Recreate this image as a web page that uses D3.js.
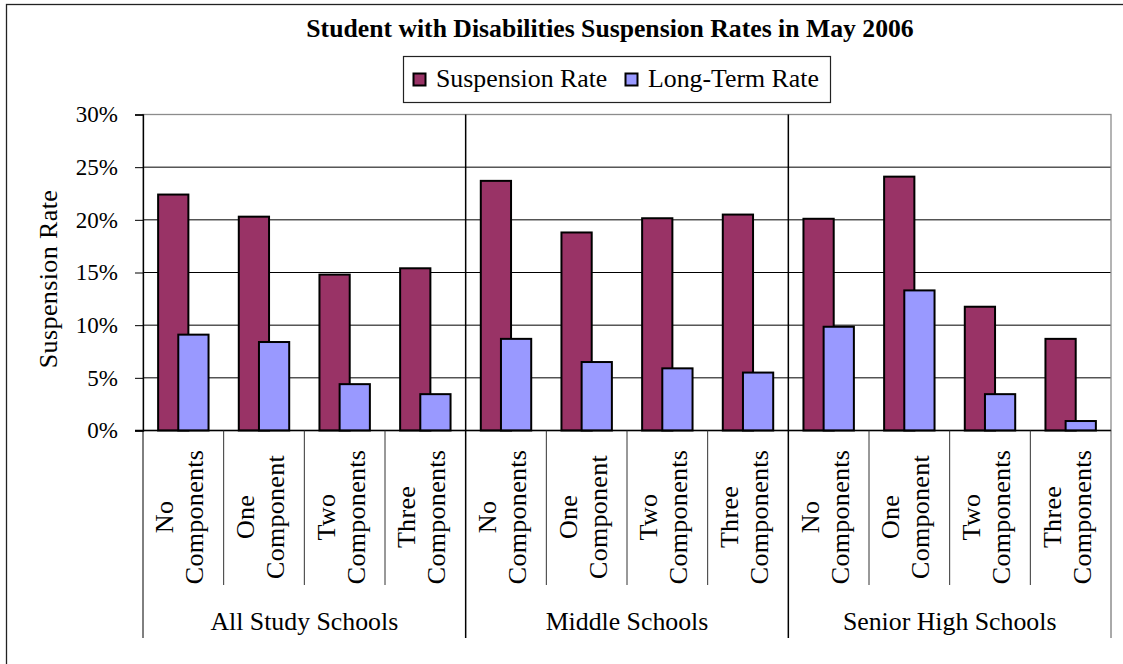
<!DOCTYPE html>
<html>
<head>
<meta charset="utf-8">
<script src="https://cdn.jsdelivr.net/npm/d3@7"></script>
<style>
  html, body { margin: 0; padding: 0; background: #fff; }
  svg { display: block; font-family: "Liberation Serif", "Times New Roman", serif; }
</style>
</head>
<body>
<svg id="chart" width="1123" height="664"></svg>
<script>
// Chart data
const chartTitle = "Student with Disabilities Suspension Rates in May 2006";
const axisTitle = "Suspension Rate";
const seriesNames = ["Suspension Rate", "Long-Term Rate"];
const seriesColors = ["#993366", "#9999FF"];
const groups = ["All Study Schools", "Middle Schools", "Senior High Schools"];
const componentLabels = [["No", "Components"], ["One", "Component"], ["Two", "Components"], ["Three", "Components"]];
// percent values, 4 categories per school group
const suspensionRate = [22.4, 20.3, 14.8, 15.4, 23.7, 18.8, 20.15, 20.5, 20.1, 24.1, 11.75, 8.7];
const longTermRate = [9.1, 8.4, 4.4, 3.45, 8.7, 6.5, 5.9, 5.5, 9.85, 13.3, 3.45, 0.9];
const yTicks = [0, 5, 10, 15, 20, 25, 30];

const svg = d3.select("#chart");

// Layout
const plot = { left: 143, right: 1111, top: 114.5, bottom: 430.5 };
const catBottom = 585, groupBottom = 638;

// Outer chart frame
svg.append("rect")
  .attr("x", 6.5).attr("y", 4.5)
  .attr("width", 1140).attr("height", 700)
  .attr("fill", "#fff").attr("stroke", "#222").attr("stroke-width", 1.3);

// Category keys
const keys = [];
groups.forEach((g, gi) => componentLabels.forEach((c, ci) => keys.push(gi + "-" + ci)));

const x = d3.scaleBand().domain(keys).range([plot.left, plot.right]).padding(0);
const y = d3.scaleLinear().domain([0, 30]).range([plot.bottom, plot.top]);

const bw = x.bandwidth();
const barW = bw * 3 / 8;          // gap width 100%, overlap 33%
const shift = barW * 2 / 3;

// Gridlines
svg.append("g").selectAll("line").data(yTicks.filter(t => t > 0 && t < 30)).join("line")
  .attr("x1", plot.left).attr("x2", plot.right)
  .attr("y1", d => y(d)).attr("y2", d => y(d))
  .attr("stroke", "#000").attr("stroke-width", 1);

// Plot area border
svg.append("rect")
  .attr("x", plot.left).attr("y", plot.top)
  .attr("width", plot.right - plot.left).attr("height", plot.bottom - plot.top)
  .attr("fill", "none").attr("stroke", "#8c8c8c").attr("stroke-width", 1.3);

// Bars
const barData = [];
keys.forEach((k, i) => {
  barData.push({ k, s: 0, v: suspensionRate[i] });
  barData.push({ k, s: 1, v: longTermRate[i] });
});
svg.append("g").selectAll("rect").data(barData).join("rect")
  .attr("x", d => x(d.k) + barW / 2 + d.s * shift)
  .attr("y", d => y(d.v))
  .attr("width", barW)
  .attr("height", d => y(0) - y(d.v))
  .attr("fill", d => seriesColors[d.s])
  .attr("stroke", "#000").attr("stroke-width", 2);

// Y axis
const yAxis = svg.append("g")
  .attr("transform", `translate(${plot.left},0)`)
  .call(d3.axisLeft(y).tickValues(yTicks).tickFormat(d => d + "%").tickSize(8).tickPadding(17));
yAxis.select(".domain").attr("stroke", "#000").attr("stroke-width", 1.3);
yAxis.selectAll(".tick line").attr("stroke", "#000");
yAxis.selectAll(".tick text")
  .attr("font-family", "Liberation Serif").attr("font-size", 23).attr("fill", "#000");

// X axis line
svg.append("line")
  .attr("x1", plot.left - 8).attr("x2", plot.right)
  .attr("y1", plot.bottom).attr("y2", plot.bottom)
  .attr("stroke", "#000").attr("stroke-width", 1.3);

// Category tick lines below axis
const catEdges = keys.map(k => x(k)).filter((v, i) => i % 4 !== 0);
svg.append("g").selectAll("line").data(catEdges).join("line")
  .attr("x1", d => d).attr("x2", d => d)
  .attr("y1", plot.bottom).attr("y2", catBottom)
  .attr("stroke", "#333").attr("stroke-width", 1);

// Group separators (through plot and down the label area)
const groupEdges = groups.map((g, gi) => x(gi + "-0")).concat([plot.right]);
svg.append("g").selectAll("line").data(groupEdges).join("line")
  .attr("x1", d => d).attr("x2", d => d)
  .attr("y1", (d, i) => (i === 0 || i === groupEdges.length - 1) ? plot.bottom : plot.top)
  .attr("y2", groupBottom)
  .attr("stroke", (d, i) => i === groupEdges.length - 1 ? "#555" : "#000")
  .attr("stroke-width", (d, i) => (i === 0 || i === groupEdges.length - 1) ? 1 : 1.5);

// Category labels (rotated, two lines)
const catG = svg.append("g").selectAll("g").data(keys).join("g")
  .attr("transform", d => `translate(${x(d) + bw / 2},517) rotate(-90)`);
catG.each(function (k) {
  const ci = +k.split("-")[1];
  const lines = componentLabels[ci];
  const t = d3.select(this).append("text")
    .attr("text-anchor", "middle")
    .attr("font-size", 26)
    .attr("letter-spacing", 0.3)
    .attr("fill", "#000");
  t.append("tspan").attr("x", 0).attr("y", -10).text(lines[0]);
  t.append("tspan").attr("x", 0).attr("y", 20).text(lines[1]);
});

// Group labels
svg.append("g").selectAll("text").data(groups).join("text")
  .attr("x", (d, gi) => (x(gi + "-0") + x(gi + "-3") + bw) / 2)
  .attr("y", 630)
  .attr("text-anchor", "middle")
  .attr("font-size", 25.8)
  .attr("fill", "#000")
  .text(d => d);

// Axis title
svg.append("text")
  .attr("transform", `translate(57,279) rotate(-90)`)
  .attr("text-anchor", "middle")
  .attr("font-size", 26)
  .attr("letter-spacing", 0.4)
  .attr("fill", "#000")
  .text(axisTitle);

// Title
svg.append("text")
  .attr("x", 610).attr("y", 37)
  .attr("text-anchor", "middle")
  .attr("font-size", 25.7)
  .attr("font-weight", "bold")
  .attr("fill", "#000")
  .text(chartTitle);

// Legend
const legend = svg.append("g");
legend.append("rect")
  .attr("x", 403.5).attr("y", 56.5).attr("width", 427).attr("height", 46)
  .attr("fill", "#fff").attr("stroke", "#222").attr("stroke-width", 1.2);
const legendX = [413, 625];
const items = legend.selectAll("g.item").data(seriesNames).join("g")
  .attr("class", "item")
  .attr("transform", (d, i) => `translate(${legendX[i]},0)`);
items.append("rect")
  .attr("x", 0.5).attr("y", 73.5).attr("width", 12).attr("height", 12)
  .attr("fill", (d, i) => seriesColors[i])
  .attr("stroke", "#000").attr("stroke-width", 2);
items.append("text")
  .attr("x", 23).attr("y", 87)
  .attr("font-size", 25.8)
  .attr("fill", "#000")
  .text(d => d);
</script>
</body>
</html>
